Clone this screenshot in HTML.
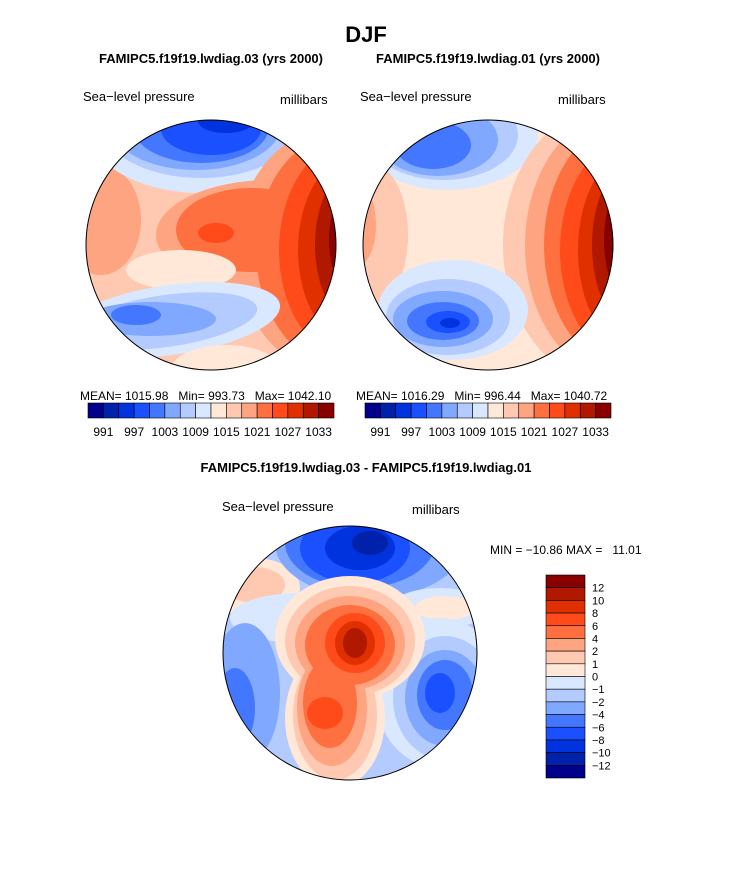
<!DOCTYPE html>
<html><head><meta charset="utf-8"><style>
body{margin:0;background:#fff;}
svg{display:block;font-family:"Liberation Sans",sans-serif;}
</style></head><body>
<svg id="fig" width="733" height="882" viewBox="0 0 733 882">
<defs>
<clipPath id="c1"><circle cx="0" cy="0" r="125"/></clipPath>
<clipPath id="c3"><circle cx="0" cy="0" r="127"/></clipPath>
</defs>
<text x="366" y="42" text-anchor="middle" font-size="22" font-weight="bold">DJF</text>
<text x="211" y="63" text-anchor="middle" font-size="13" font-weight="bold">FAMIPC5.f19f19.lwdiag.03 (yrs 2000)</text>
<text x="488" y="63" text-anchor="middle" font-size="13" font-weight="bold">FAMIPC5.f19f19.lwdiag.01 (yrs 2000)</text>
<text x="83" y="101" font-size="13">Sea−level pressure</text>
<text x="280" y="104" font-size="13">millibars</text>
<text x="360" y="101" font-size="13">Sea−level pressure</text>
<text x="558" y="104" font-size="13">millibars</text>

<g transform="translate(211,245)">
 <g clip-path="url(#c1)">
  <rect x="-130" y="-130" width="260" height="260" fill="#ffc8b0"/>
  <ellipse cx="-110" cy="-25" rx="40" ry="55" fill="#ffa480"/>
  <ellipse cx="-10" cy="-120" rx="115" ry="68" fill="#d9e8ff"/>
  <ellipse cx="-10" cy="-122" rx="100" ry="55" fill="#b3cbff"/>
  <ellipse cx="-15" cy="-120" rx="85" ry="45" fill="#80a8ff"/>
  <ellipse cx="-10" cy="-118" rx="68" ry="36" fill="#4477ff"/>
  <ellipse cx="0" cy="-116" rx="50" ry="26" fill="#1a50ff"/>
  <ellipse cx="15" cy="-124" rx="28" ry="12" fill="#0033dd"/>
  <ellipse cx="60" cy="-10" rx="115" ry="55" fill="#ffa480"/>
  <ellipse cx="130" cy="5" rx="105" ry="125" fill="#ffa480"/>
  <ellipse cx="40" cy="-15" rx="75" ry="42" fill="#ff7040"/>
  <ellipse cx="135" cy="5" rx="90" ry="118" fill="#ff7040"/>
  <ellipse cx="140" cy="5" rx="72" ry="108" fill="#ff4a1a"/>
  <ellipse cx="145" cy="5" rx="58" ry="95" fill="#e03000"/>
  <ellipse cx="150" cy="0" rx="46" ry="82" fill="#b01800"/>
  <ellipse cx="155" cy="-5" rx="37" ry="65" fill="#880000"/>
  <ellipse cx="5" cy="-12" rx="18" ry="10" fill="#ff4a1a"/>
  <ellipse cx="-30" cy="25" rx="55" ry="20" fill="#ffe8d8"/>
  <ellipse cx="-40" cy="75" rx="110" ry="35" transform="rotate(-8 -40 75)" fill="#d9e8ff"/>
  <ellipse cx="-45" cy="76" rx="92" ry="26" transform="rotate(-8 -45 76)" fill="#b3cbff"/>
  <ellipse cx="-60" cy="74" rx="65" ry="17" fill="#80a8ff"/>
  <ellipse cx="-75" cy="70" rx="25" ry="10" fill="#4477ff"/>
  <ellipse cx="15" cy="125" rx="55" ry="25" fill="#ffe8d8"/>
 </g>
 <circle r="125" fill="none" stroke="#000" stroke-width="1"/>
</g>

<g transform="translate(488,245)">
 <g clip-path="url(#c1)">
  <rect x="-130" y="-130" width="260" height="260" fill="#ffe8d8"/>
  <ellipse cx="-40" cy="-110" rx="90" ry="55" fill="#d9e8ff"/>
  <ellipse cx="-45" cy="-110" rx="75" ry="45" fill="#b3cbff"/>
  <ellipse cx="-50" cy="-105" rx="60" ry="36" fill="#80a8ff"/>
  <ellipse cx="-55" cy="-100" rx="38" ry="24" fill="#4477ff"/>
  <ellipse cx="-115" cy="-10" rx="35" ry="70" fill="#ffc8b0"/>
  <ellipse cx="-130" cy="-20" rx="18" ry="40" fill="#ffa480"/>
  <ellipse cx="125" cy="0" rx="110" ry="140" fill="#ffc8b0"/>
  <ellipse cx="132" cy="0" rx="95" ry="132" fill="#ffa480"/>
  <ellipse cx="138" cy="0" rx="82" ry="122" fill="#ff7040"/>
  <ellipse cx="142" cy="5" rx="70" ry="110" fill="#ff4a1a"/>
  <ellipse cx="148" cy="5" rx="58" ry="100" fill="#e03000"/>
  <ellipse cx="152" cy="0" rx="48" ry="88" fill="#b01800"/>
  <ellipse cx="156" cy="-5" rx="40" ry="75" fill="#880000"/>
  <ellipse cx="-35" cy="65" rx="75" ry="50" fill="#d9e8ff"/>
  <ellipse cx="-40" cy="72" rx="62" ry="38" fill="#b3cbff"/>
  <ellipse cx="-45" cy="74" rx="50" ry="28" fill="#80a8ff"/>
  <ellipse cx="-45" cy="76" rx="36" ry="19" fill="#4477ff"/>
  <ellipse cx="-40" cy="77" rx="22" ry="11" fill="#1a50ff"/>
  <ellipse cx="-38" cy="78" rx="10" ry="5" fill="#0033dd"/>
 </g>
 <circle r="125" fill="none" stroke="#000" stroke-width="1"/>
</g>

<text x="80" y="400" font-size="12" xml:space="preserve">MEAN= 1015.98   Min= 993.73   Max= 1042.10</text>
<text x="356" y="400" font-size="12" xml:space="preserve">MEAN= 1016.29   Min= 996.44   Max= 1040.72</text>
<g id="cb1"></g>
<g id="cb2"></g>

<text x="366" y="472" text-anchor="middle" font-size="13" font-weight="bold">FAMIPC5.f19f19.lwdiag.03 - FAMIPC5.f19f19.lwdiag.01</text>
<text x="222" y="511" font-size="13">Sea−level pressure</text>
<text x="412" y="514" font-size="13">millibars</text>
<text x="490" y="554" font-size="12" xml:space="preserve">MIN = −10.86 MAX =   11.01</text>

<g transform="translate(350,653)">
 <g clip-path="url(#c3)">
  <rect x="-130" y="-130" width="260" height="260" fill="#b3cbff"/>
  <ellipse cx="-95" cy="-65" rx="45" ry="30" fill="#ffe8d8"/>
  <ellipse cx="-95" cy="-68" rx="30" ry="18" fill="#ffc8b0"/>
  <ellipse cx="-50" cy="-35" rx="70" ry="25" fill="#d9e8ff"/>
  <ellipse cx="20" cy="-110" rx="95" ry="55" fill="#80a8ff"/>
  <ellipse cx="10" cy="-110" rx="75" ry="45" fill="#4477ff"/>
  <ellipse cx="5" cy="-105" rx="55" ry="35" fill="#1a50ff"/>
  <ellipse cx="10" cy="-105" rx="35" ry="22" fill="#0033dd"/>
  <ellipse cx="20" cy="-110" rx="18" ry="12" fill="#0022aa"/>
  <ellipse cx="90" cy="-45" rx="50" ry="20" fill="#d9e8ff"/>
  <ellipse cx="95" cy="-45" rx="30" ry="12" fill="#ffe8d8"/>
  <ellipse cx="90" cy="40" rx="65" ry="75" fill="#d9e8ff"/>
  <ellipse cx="95" cy="45" rx="52" ry="62" fill="#b3cbff"/>
  <ellipse cx="95" cy="45" rx="40" ry="48" fill="#80a8ff"/>
  <ellipse cx="95" cy="42" rx="28" ry="35" fill="#4477ff"/>
  <ellipse cx="90" cy="40" rx="15" ry="20" fill="#1a50ff"/>
  <ellipse cx="-105" cy="40" rx="35" ry="70" fill="#80a8ff"/>
  <ellipse cx="-115" cy="55" rx="20" ry="40" fill="#4477ff"/>
  <ellipse cx="-120" cy="75" rx="10" ry="15" fill="#1a50ff"/>
  <ellipse cx="0" cy="-15" rx="75" ry="62" fill="#ffe8d8"/>
  <ellipse cx="-15" cy="65" rx="50" ry="70" fill="#ffe8d8"/>
  <ellipse cx="0" cy="-12" rx="65" ry="55" fill="#ffc8b0"/>
  <ellipse cx="-15" cy="62" rx="42" ry="65" fill="#ffc8b0"/>
  <ellipse cx="0" cy="-10" rx="55" ry="47" fill="#ffa480"/>
  <ellipse cx="-18" cy="55" rx="35" ry="58" fill="#ffa480"/>
  <ellipse cx="0" cy="-8" rx="45" ry="40" fill="#ff7040"/>
  <ellipse cx="-20" cy="50" rx="27" ry="45" fill="#ff7040"/>
  <ellipse cx="5" cy="-10" rx="30" ry="30" fill="#ff4a1a"/>
  <ellipse cx="5" cy="-10" rx="20" ry="22" fill="#e03000"/>
  <ellipse cx="5" cy="-10" rx="12" ry="15" fill="#b01800"/>
  <ellipse cx="-25" cy="60" rx="18" ry="16" fill="#ff4a1a"/>
 </g>
 <circle r="127" fill="none" stroke="#000" stroke-width="1"/>
</g>
<g id="cb3"></g>
</svg>
<script>
const colors = ["#00008a","#0022aa","#0033dd","#1a50ff","#4477ff","#80a8ff","#b3cbff","#d9e8ff","#ffe8d8","#ffc8b0","#ffa480","#ff7040","#ff4a1a","#e03000","#b01800","#880000"];
const absLabels = ["991","997","1003","1009","1015","1021","1027","1033"];
const diffLabels = ["12","10","8","6","4","2","1","0","−1","−2","−4","−6","−8","−10","−12"];
const NS="http://www.w3.org/2000/svg";
function mk(tag, attrs, parent){const e=document.createElementNS(NS,tag);for(const k in attrs)e.setAttribute(k,attrs[k]);parent.appendChild(e);return e;}
function hbar(id, x0){
  const g=document.getElementById(id), w=246/colors.length;
  colors.forEach((c,i)=>{
    const r=mk('rect',{x:x0+i*w,y:403,width:w,height:15,fill:c,stroke:'#000','stroke-width':0.6},g);
    
    
  });
  absLabels.forEach((l,i)=>{
    const t=mk('text',{x:x0+(2*i+1)*w,y:436,'text-anchor':'middle','font-size':12},g);
    t.textContent=l;
    
    
  });
}
hbar('cb1',88); hbar('cb2',365);
(function(){
  const g=document.getElementById('cb3'), h=203/colors.length, y0=575;
  colors.slice().reverse().forEach((c,i)=>{
    const r=mk('rect',{x:546,y:y0+i*h,width:39,height:h,fill:c,stroke:'#000','stroke-width':0.6},g);
    
    
  });
  diffLabels.forEach((l,i)=>{
    const t=mk('text',{x:592,y:y0+(i+1)*h+4,'font-size':11},g);
    t.textContent=l;
    
    
  });
})();
</script>
</body></html>
